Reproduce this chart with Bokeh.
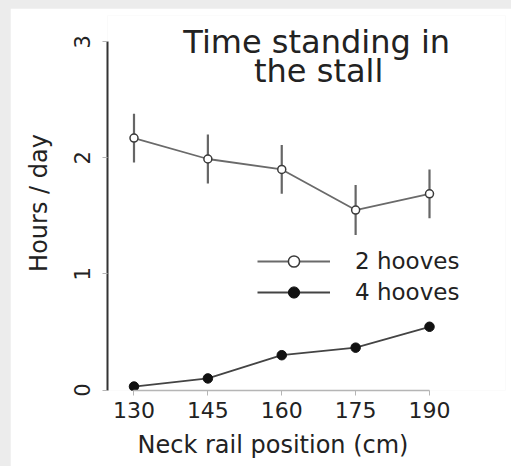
from bokeh.plotting import figure
from bokeh.models import (Range1d, FixedTicker, Legend, LegendItem, ColumnDataSource, Title)
from bokeh.layouts import column
from bokeh.core.properties import value
from bokeh.embed import file_html
from bokeh.resources import INLINE

# Neck rail position (cm) and time standing in the stall (hours/day)
positions = [130, 145, 160, 175, 190]
two_hooves = [2.17, 1.99, 1.90, 1.55, 1.69]
two_hooves_se = [0.21, 0.21, 0.21, 0.215, 0.21]
four_hooves = [0.03, 0.10, 0.30, 0.365, 0.545]
x_ticks = [130, 145, 160, 175, 190]
y_ticks = [0, 1, 2, 3]
title_lines = ["Time standing in", "the stall"]
title_y = [2.996, 2.752]
title_x = [167.1, 167.5]

FONT = "DejaVu Sans"
INK = "#222222"

src2 = ColumnDataSource(dict(
    x=positions, y=two_hooves,
    lo=[m - s for m, s in zip(two_hooves, two_hooves_se)],
    hi=[m + s for m, s in zip(two_hooves, two_hooves_se)],
))
src4 = ColumnDataSource(dict(x=positions, y=four_hooves))

p = figure(width=501, height=458, output_backend="svg", toolbar_location=None,
           x_range=Range1d(124.62, 205.43), y_range=Range1d(-0.004, 3.226),
           min_border_left=97, min_border_right=6, min_border_top=7,
           min_border_bottom=76, background_fill_color="white",
           border_fill_color="white", outline_line_color=None)
p.grid.visible = False

# axes: R-like, lines limited to the tick span
p.xaxis.bounds = (130, 190)
p.xaxis.ticker = FixedTicker(ticks=x_ticks)
p.xaxis.axis_line_color = "#b5b5b5"
p.xaxis.axis_line_width = 1.5
p.xaxis.major_tick_line_color = "#b5b5b5"
p.xaxis.major_tick_out = 5
p.xaxis.major_tick_in = 0
p.xaxis.minor_tick_line_color = None
p.xaxis.major_label_text_font = FONT
p.xaxis.major_label_text_font_size = "22px"
p.xaxis.major_label_text_color = INK
p.xaxis.major_label_standoff = 6

p.yaxis.bounds = (0, 3)
p.yaxis.ticker = FixedTicker(ticks=y_ticks)
p.yaxis.axis_line_color = "#333333"
p.yaxis.axis_line_width = 2
p.yaxis.major_tick_line_color = "#b5b5b5"
p.yaxis.major_tick_out = 5
p.yaxis.major_tick_in = 0
p.yaxis.minor_tick_line_color = None
p.yaxis.major_label_orientation = "vertical"
p.yaxis.major_label_text_font = FONT
p.yaxis.major_label_text_font_size = "21px"
p.yaxis.major_label_text_color = INK
p.yaxis.major_label_standoff = 12
p.yaxis.axis_label = "Hours / day"
p.yaxis.axis_label_text_font = FONT
p.yaxis.axis_label_text_font_style = "normal"
p.yaxis.axis_label_text_font_size = "24px"
p.yaxis.axis_label_text_color = INK
p.yaxis.axis_label_standoff = 19

# x-axis caption, centred under the tick span rather than the whole frame
p.add_layout(Title(text="Neck rail position (cm)", align="left", offset=30,
                   padding=dict(left=0, right=0, top=3, bottom=0),
                   text_font=FONT, text_font_style="normal",
                   text_font_size="24px", text_color=INK),
             "below")

# 2 hooves: mean with error bars, open markers
p.segment(x0="x", y0="lo", x1="x", y1="hi", source=src2,
          line_color="#666666", line_width=2.2)
l2 = p.line("x", "y", source=src2, line_color="#6a6a6a", line_width=1.8)
m2 = p.scatter("x", "y", source=src2, marker="circle", size=8,
               line_color="#3a3a3a", line_width=1.5, fill_color="white")

# 4 hooves: filled markers
l4 = p.line("x", "y", source=src4, line_color="#444444", line_width=1.8)
m4 = p.scatter("x", "y", source=src4, marker="circle", size=9.5,
               line_color="#111111", fill_color="#111111")

# title inside the plot area
p.text(x=title_x, y=title_y, text=title_lines, text_align="center",
       text_baseline="alphabetic", text_font=value(FONT),
       text_font_size="32px", text_color=INK)

legend = Legend(items=[LegendItem(label="2 hooves", renderers=[l2, m2]),
                       LegendItem(label="4 hooves", renderers=[l4, m4])],
                location=(150, 84), glyph_width=73, glyph_height=28,
                label_standoff=25, spacing=3, padding=0, margin=0,
                border_line_alpha=0, background_fill_alpha=0,
                label_text_font=FONT, label_text_font_size="23px",
                label_text_color=INK)
p.add_layout(legend)

p.margin = (8, 0, 0, 10)
page = column(p, styles={"background-color": "#ececec"})

open("out.html", "w").write(file_html(page, INLINE))
